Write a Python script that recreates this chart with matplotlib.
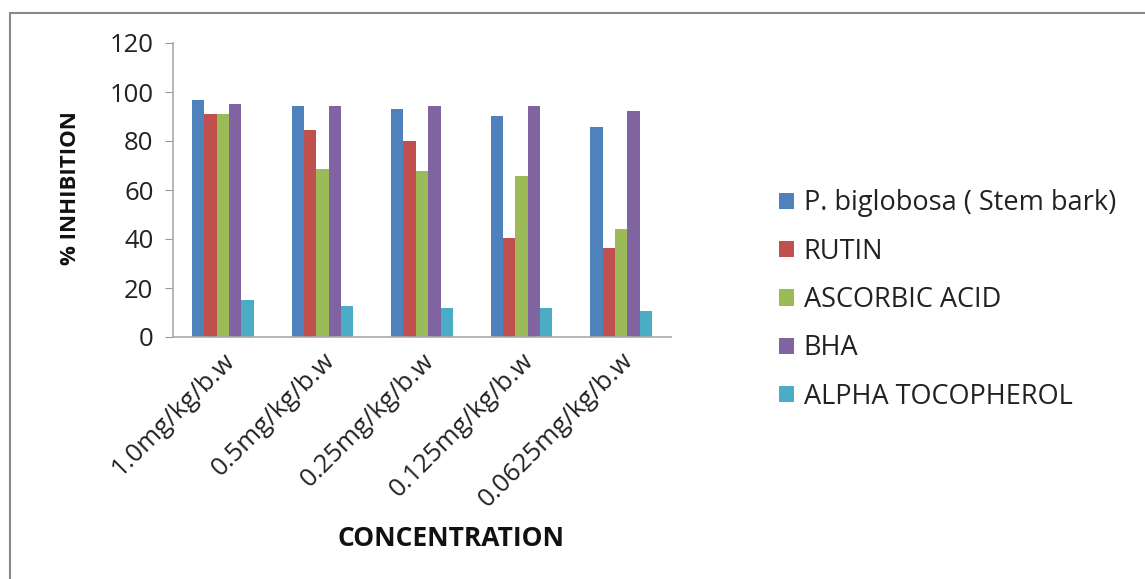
import matplotlib.pyplot as plt
import numpy as np
from matplotlib.patches import Rectangle

concentrations = ["1.0mg/kg/b.w", "0.5mg/kg/b.w", "0.25mg/kg/b.w", "0.125mg/kg/b.w", "0.0625mg/kg/b.w"]
series_names = ["P. biglobosa ( Stem bark)", "RUTIN", "ASCORBIC ACID", "BHA", "ALPHA TOCOPHEROL"]
stem_bark = [96.8, 94.2, 93.1, 90.0, 85.9]
rutin = [91.1, 84.5, 80.2, 40.6, 36.5]
ascorbic = [91.1, 68.7, 67.6, 65.7, 44.2]
bha = [95.3, 94.2, 94.2, 94.2, 92.2]
tocopherol = [15.3, 12.5, 12.0, 12.0, 10.5]
colors = ["#4F81BD", "#C0504D", "#9BBB59", "#8064A2", "#4BACC6"]

plt.rcParams["font.family"] = ["Open Sans", "DejaVu Sans"]
fig = plt.figure(figsize=(11.45, 5.79), dpi=100)
ax = fig.add_axes([173 / 1145, 1 - 337 / 579, 498 / 1145, 294 / 579])

x = np.arange(len(concentrations))
width = 0.124
handles = []
for i, (vals, name) in enumerate(zip([stem_bark, rutin, ascorbic, bha, tocopherol], series_names)):
    h = ax.bar(x + (i - 2) * width, vals, width, color=colors[i], label=name)
    handles.append(h)

ax.set_xlim(-0.5, len(concentrations) - 0.5)
ax.set_ylim(0, 120)
ax.set_yticks(range(0, 121, 20))
ax.set_xticks(x)
ax.set_xticklabels(concentrations, rotation=45, ha="right", rotation_mode="anchor", fontsize=18.5, color="#222222")
ax.tick_params(axis="x", length=0, pad=8)
ax.tick_params(axis="y", length=6, color="#999999", labelsize=18.5, labelcolor="#222222", pad=8)
for s in ("top", "right"):
    ax.spines[s].set_visible(False)
for s in ("left", "bottom"):
    ax.spines[s].set_color("#aaaaaa")
    ax.spines[s].set_linewidth(1.2)

fig.text(70 / 1145, 1 - 188 / 579, "% INHIBITION", rotation=90, ha="center", va="center",
         fontsize=16, fontweight="bold", color="#111111")
fig.text(451 / 1145, 1 - 538 / 579, "CONCENTRATION", ha="center", va="center",
         fontsize=19, fontweight="bold", color="#111111")

fig.legend(handles=handles, loc="center left", bbox_to_anchor=(755 / 1145, 1 - 300 / 579),
           frameon=False, fontsize=19.5, labelspacing=0.75, handlelength=0.55, handleheight=0.55,
           handletextpad=0.35, labelcolor="#222222")

# outer border (runs off the right and bottom edges)
fig.patches.append(Rectangle((10 / 1145, -0.1), 1.2, 1 - 13 / 579 + 0.1, transform=fig.transFigure,
                             fill=False, edgecolor="#888888", linewidth=1.5))

fig.savefig("out.png", dpi=100)
